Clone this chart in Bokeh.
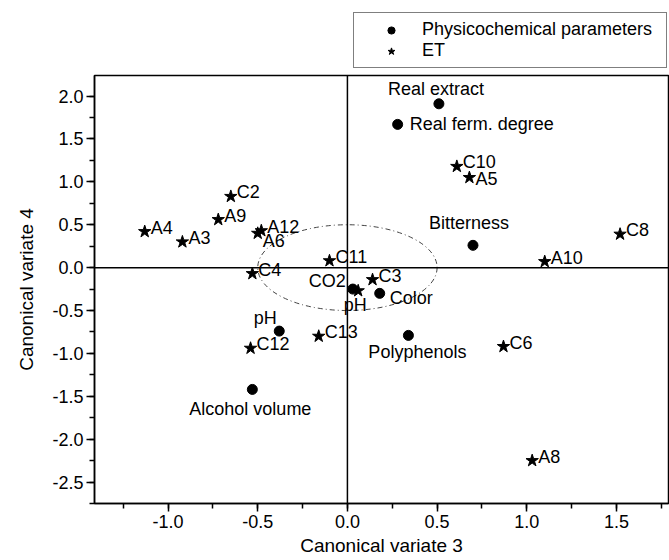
from bokeh.plotting import figure
from bokeh.layouts import column
from bokeh.models import (ColumnDataSource, Span, Legend, LegendItem,
                          SingleIntervalTicker, PrintfTickFormatter)
from bokeh.core.properties import value
from bokeh.embed import file_html
from bokeh.resources import INLINE

# ---------------- data ----------------
phys_names = ["Real extract", "Real ferm. degree", "Bitterness", "CO2",
              "Color", "Polyphenols", "pH", "Alcohol volume"]
phys_x = [0.51, 0.28, 0.70, 0.03, 0.18, 0.34, -0.38, -0.53]
phys_y = [1.91, 1.67, 0.26, -0.25, -0.30, -0.79, -0.74, -1.42]

et_names = ["A4", "A3", "A9", "C2", "A12", "A6", "C11", "C4", "C10", "A5",
            "C8", "A10", "C3", "pH", "C6", "A8", "C12", "C13"]
et_x = [-1.13, -0.92, -0.72, -0.65, -0.48, -0.50, -0.10, -0.53, 0.61, 0.68,
        1.52, 1.10, 0.14, 0.06, 0.87, 1.03, -0.54, -0.16]
et_y = [0.42, 0.30, 0.56, 0.83, 0.43, 0.40, 0.08, -0.07, 1.18, 1.05,
        0.39, 0.07, -0.14, -0.27, -0.92, -2.25, -0.94, -0.80]

legend_labels = ["Physicochemical parameters", "ET"]
x_title = "Canonical variate 3"
y_title = "Canonical variate 4"

# confidence circle (centre and diameters, data units)
circle_cx, circle_cy, circle_w, circle_h = 0.0, 0.0, 1.0, 1.0

# ---------------- label placement (style) ----------------
phys_label_style = {
    "Real extract": ("center", -3, -15),
    "Real ferm. degree": ("left", 12, 0),
    "Bitterness": ("center", -4, -22),
    "CO2": ("right", -7, -8),
    "Color": ("left", 10, 5),
    "Polyphenols": ("center", 9, 17),
    "pH": ("center", -14, -13),
    "Alcohol volume": ("center", -2, 20),
}
et_default_style = ("left", 6, -4)
et_label_style = {
    "A5": ("left", 6, 1),
    "A6": ("left", 5, 8),
    "pH": ("center", -3, 14),
}

FONT = "Liberation Sans"
LEG_H = 74


def styled(names, table, default=None):
    al, dx, dy = [], [], []
    for n in names:
        a, x, y = table.get(n, default)
        al.append(a)
        dx.append(x)
        dy.append(y)
    return al, dx, dy


pa, pdx, pdy = styled(phys_names, phys_label_style)
phys_src = ColumnDataSource(dict(x=phys_x, y=phys_y, name=phys_names,
                                 align=pa, dx=pdx, dy=pdy))
ea, edx, edy = styled(et_names, et_label_style, et_default_style)
et_src = ColumnDataSource(dict(x=et_x, y=et_y, name=et_names,
                               align=ea, dx=edx, dy=edy))

# ---------------- main plot ----------------
p = figure(width=669, height=560 - LEG_H, x_range=(-1.41, 1.79), y_range=(-2.75, 2.24),
           output_backend="svg", toolbar_location=None,
           min_border_left=94, min_border_right=1,
           min_border_top=1, min_border_bottom=57)
p.background_fill_color = "white"
p.border_fill_color = "white"
p.grid.visible = False
p.outline_line_color = "black"
p.outline_line_width = 1.5

for ax in (p.xaxis[0], p.yaxis[0]):
    ax.ticker = SingleIntervalTicker(interval=0.5, num_minor_ticks=2)
    ax.formatter = PrintfTickFormatter(format="%.1f")
    ax.axis_line_color = "black"
    ax.axis_line_width = 1.5
    ax.major_tick_line_color = "black"
    ax.major_tick_line_width = 1.5
    ax.minor_tick_line_color = "black"
    ax.minor_tick_line_width = 1.5
    ax.major_tick_in = 0
    ax.major_tick_out = 8
    ax.minor_tick_in = 0
    ax.minor_tick_out = 5
    ax.major_label_text_font = FONT
    ax.major_label_text_font_size = "18px"
    ax.major_label_text_color = "black"
    ax.axis_label_text_font = FONT
    ax.axis_label_text_font_size = "19px"
    ax.axis_label_text_font_style = "normal"
    ax.axis_label_text_color = "black"

p.xaxis.axis_label = x_title
p.yaxis.axis_label = y_title
p.xaxis.major_label_standoff = 3
p.xaxis.axis_label_standoff = 4
p.yaxis.major_label_standoff = 3
p.yaxis.axis_label_standoff = 12

p.add_layout(Span(location=0, dimension="width", line_color="black", line_width=1.5))
p.add_layout(Span(location=0, dimension="height", line_color="black", line_width=1.5))

p.ellipse(x=circle_cx, y=circle_cy, width=circle_w, height=circle_h,
          fill_color=None, line_color="#444444", line_width=1,
          line_dash="5 3 1 3")

p.scatter("x", "y", source=phys_src, marker="circle", size=10,
          fill_color="black", line_color="black")
p.scatter("x", "y", source=et_src, marker="star", size=13,
          fill_color="black", line_color="black")

for src in (phys_src, et_src):
    p.text(x="x", y="y", text="name", source=src, x_offset="dx", y_offset="dy",
           text_align="align", text_baseline="middle",
           text_font=value(FONT), text_font_size="18px", text_color="black")

# ---------------- legend strip above the plot ----------------
lf = figure(width=669, height=LEG_H, x_range=(0, 1), y_range=(0, 1),
            output_backend="svg", toolbar_location=None, min_border=0)
lf.axis.visible = False
lf.grid.visible = False
lf.outline_line_color = None
lf.background_fill_color = "white"
lf.border_fill_color = "white"
# proxy glyphs for the legend keys (kept outside the visible range)
lr_phys = lf.scatter(x=[-10], y=[-10], marker="circle", size=10,
                     fill_color="black", line_color="black")
lr_et = lf.scatter(x=[-10], y=[-10], marker="star", size=13,
                   fill_color="black", line_color="black")
legend = Legend(items=[LegendItem(label=legend_labels[0], renderers=[lr_phys]),
                       LegendItem(label=legend_labels[1], renderers=[lr_et])],
                location=(259, 6), padding=6, spacing=0, margin=0,
                glyph_width=62, glyph_height=18, label_standoff=0,
                label_width=238,
                label_text_font=FONT, label_text_font_size="18px",
                label_text_color="black",
                border_line_color="black", border_line_width=1,
                background_fill_color="white", background_fill_alpha=1.0)
lf.add_layout(legend)

layout = column(lf, p, spacing=0)
open("out.html", "w").write(file_html(layout, INLINE))
